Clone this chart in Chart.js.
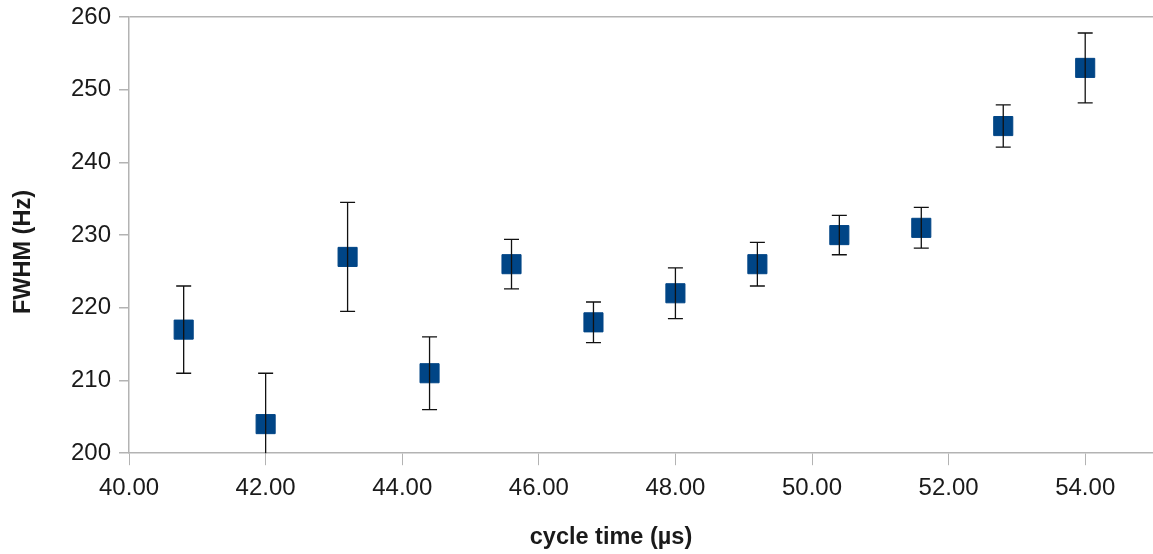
<!DOCTYPE html>
<html>
<head>
<meta charset="utf-8">
<script src="https://cdn.jsdelivr.net/npm/chart.js@4"></script>
<style>
  html, body { margin: 0; padding: 0; background: #fff; overflow: hidden; }
  #fwhmChart { display: block; }
</style>
</head>
<body>
<!-- canvas un peu plus large que la fenêtre : la zone du graphique va jusqu'au bord droit -->
<canvas id="fwhmChart" width="1168" height="554"></canvas>
<script>
// Données
const cycleTimes = [40.8, 42.0, 43.2, 44.4, 45.6, 46.8, 48.0, 49.2, 50.4, 51.6, 52.8, 54.0];
const fwhm = [217, 204, 227, 211, 226, 218, 222, 226, 230, 231, 245, 253];
const fwhmErrors = [6, 7, 7.5, 5, 3.4, 2.8, 3.5, 3, 2.7, 2.8, 2.9, 4.8];

// Graduations des axes
const xTicks = [40, 42, 44, 46, 48, 50, 52, 54];
const yTicks = [200, 210, 220, 230, 240, 250, 260];

const xTitle = 'cycle time (µs)';
const yTitle = 'FWHM (Hz)';

const axisGray = '#b3b3b3';
const textColor = '#1a1a1a';

// Barres d'erreur dessinées avec les échelles du graphique
const errorBars = {
  id: 'errorBars',
  afterDatasetsDraw(chart) {
    const { ctx, chartArea, scales: { x, y } } = chart;
    ctx.save();
    ctx.beginPath();
    ctx.rect(chartArea.left, chartArea.top, chartArea.right - chartArea.left, chartArea.bottom - chartArea.top);
    ctx.clip();
    ctx.strokeStyle = '#111';
    ctx.lineWidth = 1.3;
    cycleTimes.forEach((t, i) => {
      const px = x.getPixelForValue(t);
      const top = y.getPixelForValue(fwhm[i] + fwhmErrors[i]);
      const bottom = y.getPixelForValue(fwhm[i] - fwhmErrors[i]);
      ctx.beginPath();
      ctx.moveTo(px, top);
      ctx.lineTo(px, bottom);
      ctx.moveTo(px - 7.5, top);
      ctx.lineTo(px + 7.5, top);
      ctx.moveTo(px - 7.5, bottom);
      ctx.lineTo(px + 7.5, bottom);
      ctx.stroke();
    });
    ctx.restore();
  }
};

// Titres des axes, centrés sur le cadre du graphique comme dans l'original
const axisTitles = {
  id: 'axisTitles',
  afterDraw(chart) {
    const ctx = chart.ctx;
    ctx.save();
    ctx.fillStyle = textColor;
    ctx.font = 'bold 23.5px "Liberation Sans"';
    ctx.textAlign = 'center';
    ctx.textBaseline = 'middle';
    ctx.fillText(xTitle, 611, 538);
    ctx.translate(24, 252);
    ctx.rotate(-Math.PI / 2);
    ctx.fillText(yTitle, 0, 0);
    ctx.restore();
  }
};

const data = {
  datasets: [{
    label: 'FWHM',
    data: cycleTimes.map((t, i) => ({ x: t, y: fwhm[i] })),
    backgroundColor: '#004586',
    borderColor: '#004586',
    borderWidth: 1,
    pointStyle: 'rect',
    pointRadius: 13.5,
    pointHoverRadius: 13.5,
    showLine: false
  }]
};

const config = {
  type: 'scatter',
  data: data,
  plugins: [errorBars, axisTitles],
  options: {
    responsive: false,
    animation: false,
    layout: { padding: { top: 0, right: 0, left: 63, bottom: 42 } },
    plugins: {
      legend: { display: false },
      tooltip: { enabled: false }
    },
    scales: {
      x: {
        min: 40,
        max: 55,
        afterBuildTicks: (scale) => { scale.ticks = xTicks.map(v => ({ value: v })); },
        afterFit: (scale) => { scale.paddingRight = 0; },
        ticks: {
          color: textColor,
          font: { family: 'Liberation Sans', size: 24 },
          padding: 9,
          maxRotation: 0,
          callback: (v) => v.toFixed(2)
        },
        grid: { color: 'transparent', tickColor: axisGray, tickLength: 12 },
        border: { color: axisGray, width: 1.5 }
      },
      y: {
        min: 200,
        max: 260,
        afterBuildTicks: (scale) => { scale.ticks = yTicks.map(v => ({ value: v })); },
        afterFit: (scale) => { scale.paddingTop = 17; },
        ticks: {
          color: textColor,
          font: { family: 'Liberation Sans', size: 24 },
          padding: 8
        },
        grid: {
          color: (c) => c.tick && c.tick.value === 260 ? axisGray : 'transparent',
          lineWidth: 1.5,
          tickColor: axisGray,
          tickLength: 10
        },
        border: { color: axisGray, width: 1.5 }
      }
    }
  }
};

// Création du graphique
const fwhmChart = new Chart(document.getElementById('fwhmChart'), config);
</script>
</body>
</html>
